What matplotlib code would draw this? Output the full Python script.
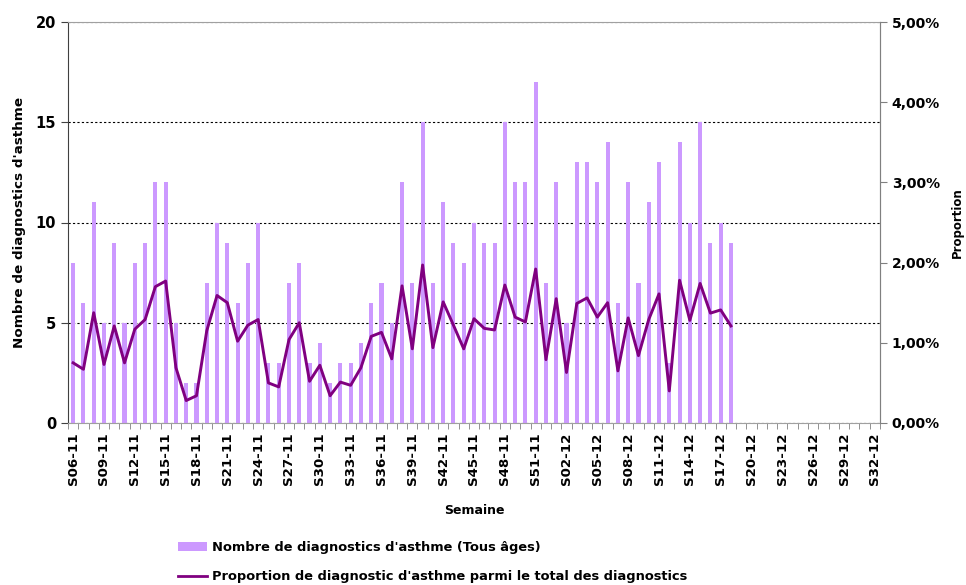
import numpy as np
import matplotlib
matplotlib.use('Agg')
import matplotlib.pyplot as plt
from matplotlib.lines import Line2D
from matplotlib.patches import Patch
from matplotlib.ticker import FuncFormatter, FixedLocator

plt.rcParams['font.family'] = ['DejaVu Sans']
plt.rcParams['font.weight'] = 'bold'
plt.rcParams['axes.labelweight'] = 'bold'

# Weeks S06-11 .. S32-12
semaines = [f"S{w:02d}-11" for w in range(6, 53)] + [f"S{w:02d}-12" for w in range(1, 33)]

# Number of asthma diagnoses (all ages), S06-11 .. S18-12
nb_diagnostics = [8, 6, 11, 5, 9, 5, 8, 9, 12, 12, 5, 2, 2, 7, 10, 9, 6, 8, 10, 3,
                  3, 7, 8, 3, 4, 2, 3, 3, 4, 6, 7, 5,
                  12, 7, 15, 7, 11, 9, 8, 10, 9, 9, 15, 12, 12, 17, 7, 12, 5, 13,
                  13, 12, 14, 6, 12, 7, 11, 13, 3, 14, 10, 15, 9, 10, 9]

# Proportion among all diagnoses (%)
proportion = [0.75, 0.67, 1.375, 0.73, 1.21, 0.75, 1.17, 1.29, 1.70, 1.77, 0.69, 0.28,
              0.34, 1.15, 1.59, 1.50, 1.02, 1.22, 1.29, 0.50, 0.45, 1.04, 1.25, 0.52,
              0.72, 0.34, 0.51, 0.47, 0.69, 1.08, 1.13, 0.80,
              1.71, 0.925, 1.97, 0.94, 1.51, 1.22, 0.925, 1.30, 1.18, 1.16, 1.72, 1.32,
              1.26, 1.92, 0.79, 1.55, 0.63, 1.49, 1.56, 1.32, 1.50, 0.65, 1.31, 0.84,
              1.29, 1.61, 0.40, 1.78, 1.28, 1.74, 1.37, 1.41, 1.21]

BAR_COLOR = '#CC99FF'
LINE_COLOR = '#800080'

fig = plt.figure(figsize=(9.66, 5.85), dpi=100)
ax = fig.add_axes([68 / 966, 1 - 423 / 585, (880 - 68) / 966, (423 - 22) / 585])

x = np.arange(len(nb_diagnostics))
ax.bar(x, nb_diagnostics, width=0.4, color=BAR_COLOR, zorder=2)
ax.set_xlim(-0.5, len(semaines) - 0.5)
ax.set_ylim(0, 20)
ax.set_yticks([0, 5, 10, 15, 20])
ax.yaxis.grid(True, color='black', linestyle=(0, (2, 2)), linewidth=0.8, zorder=1)

# x ticks: labels every 3 weeks, marks between categories
ax.set_xticks(np.arange(0, len(semaines), 3))
ax.set_xticklabels(semaines[::3], rotation=90, fontsize=9.6)
ax.xaxis.set_minor_locator(FixedLocator(np.arange(-0.5, len(semaines), 1)))
ax.tick_params(axis='x', which='major', length=0, pad=7)
ax.tick_params(axis='x', which='minor', length=4, color='#808080')
ax.tick_params(axis='y', length=5, labelsize=10.5, color='#404040')

for side in ['top', 'right', 'bottom']:
    ax.spines[side].set_color('#A0A0A0')
ax.spines['left'].set_color('#404040')

ax.set_ylabel("Nombre de diagnostics d'asthme", fontsize=9.7, labelpad=7)
ax.set_xlabel('Semaine', fontsize=9, labelpad=13)

# proportion on secondary axis
ax2 = ax.twinx()
ax2.plot(x, np.array(proportion) / 100, color=LINE_COLOR, linewidth=2.1, zorder=3)
ax2.set_ylim(0, 0.05)
ax2.set_yticks([0, 0.01, 0.02, 0.03, 0.04, 0.05])
ax2.yaxis.set_major_formatter(FuncFormatter(lambda v, p: f"{v * 100:.2f}%".replace('.', ',')))
ax2.tick_params(axis='y', length=5, labelsize=10, color='#808080')
for side in ['top', 'left', 'bottom']:
    ax2.spines[side].set_visible(False)
ax2.spines['right'].set_color('#808080')
ax2.set_ylabel('Proportion', fontsize=8.5, labelpad=8)

handles = [Patch(facecolor=BAR_COLOR, edgecolor='none'),
           Line2D([0], [0], color=LINE_COLOR, linewidth=2)]
labels = ["Nombre de diagnostics d'asthme (Tous âges)",
          "Proportion de diagnostic d'asthme parmi le total des diagnostics"]
fig.legend(handles, labels, loc='upper left', bbox_to_anchor=(178 / 966, 1 - 541 / 585),
           frameon=False, fontsize=9.4, handlelength=2.2, handleheight=0.75,
           labelspacing=1.25, handletextpad=0.38, borderaxespad=0, borderpad=0)

plt.savefig('out.png', dpi=100)
plt.close()
